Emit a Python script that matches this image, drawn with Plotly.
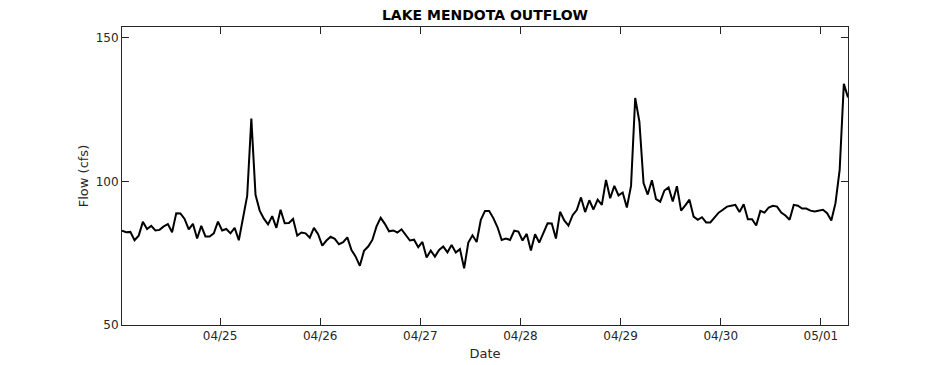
import pandas as pd
import plotly.graph_objects as go

# Hourly outflow (cfs), starting 04/24 00:30
start_time = "2015-04-24 00:30"
flow = [
    82.8, 82.3, 82.4, 79.5, 81.1, 85.9, 83.4, 84.5, 82.9, 83.1,
    84.3, 85.1, 82.3, 88.9, 88.8, 86.9, 83.3, 85.2, 80.1, 84.5,
    80.8, 80.8, 81.9, 86.0, 82.9, 83.4, 81.9, 83.8, 79.5, 87.4,
    94.9, 121.8, 95.3, 89.8, 87.0, 85.0, 87.9, 83.8, 90.1, 85.4,
    85.5, 86.9, 81.1, 82.2, 81.9, 80.4, 83.8, 81.6, 77.6, 79.4,
    80.7, 80.0, 78.1, 78.8, 80.5, 76.1, 73.8, 70.6,
    75.8, 77.3, 79.6, 84.3, 87.3, 85.2, 82.6, 82.9, 82.2, 83.3,
    81.4, 79.4, 79.7, 77.1, 78.9, 73.5, 75.9, 73.8, 76.1, 77.3,
    75.3, 77.8, 75.2, 76.4, 69.7, 78.7, 81.2, 78.9, 86.6, 89.7,
    89.7, 87.2, 84.0, 79.6, 80.1, 79.6, 82.8, 82.5, 79.4, 81.7,
    75.9, 81.6, 78.7, 82.1, 85.4, 85.3, 80.1, 89.4, 86.4, 84.6,
    88.2, 90.0, 94.4, 89.3, 93.4, 90.2, 93.6, 91.8,
    100.5, 94.1, 98.4, 95.1, 96.1, 90.9, 98.4, 129.0, 120.8, 99.4,
    95.4, 100.4, 93.8, 92.9, 96.8, 97.9, 93.0, 98.3, 89.8, 91.6,
    93.6, 87.7, 86.6, 87.5, 85.7, 85.7, 87.5, 89.1, 90.1, 91.2,
    91.5, 91.8, 89.3, 92.0, 86.8, 86.8, 84.6, 89.7, 89.1, 90.9,
    91.5, 91.2, 89.1, 88.1, 86.6, 91.8, 91.5, 90.5, 90.5, 89.8,
    89.5, 89.8, 90.1, 88.9, 86.4, 92.4, 104.0, 133.9, 129.2,
]
times = pd.date_range(start_time, periods=len(flow), freq="h")

x_tick_dates = ["2015-04-25", "2015-04-26", "2015-04-27", "2015-04-28",
                "2015-04-29", "2015-04-30", "2015-05-01"]
x_tick_labels = ["04/25", "04/26", "04/27", "04/28", "04/29", "04/30", "05/01"]
y_ticks = [50, 100, 150]

title_text = "LAKE MENDOTA OUTFLOW"
x_title = "Date"
y_title = "Flow (cfs)"

FONT = "DejaVu Sans"
TXT = "#262626"

# The page body has an 8px default margin, so the figure is sized to fit the
# remaining 930x357 area of the 938x365 window.
W, H = 930, 357

fig = go.Figure()
fig.add_trace(go.Scatter(x=times, y=flow, mode="lines",
                         line=dict(color="black", width=2), showlegend=False))

axis_common = dict(showline=True, linecolor="#262626", linewidth=1, mirror="ticks",
                   ticks="inside", ticklen=7, tickwidth=1, tickcolor="#262626",
                   showgrid=False, zeroline=False, automargin=False,
                   tickfont=dict(family=FONT, size=12, color=TXT))

fig.update_layout(
    width=W, height=H,
    margin=dict(l=114, r=90, t=19, b=40, autoexpand=False),
    paper_bgcolor="white", plot_bgcolor="white",
    font=dict(family=FONT, size=12, color=TXT),
    title=dict(text="<b>" + title_text + "</b>", x=477 / W, xanchor="center",
               y=1 - 7.5 / H, yanchor="middle", yref="container", automargin=False,
               font=dict(family=FONT, size=14, color="black")),
    xaxis=dict(range=[times[0], times[-1]], tickvals=x_tick_dates,
               ticktext=x_tick_labels,
               title=dict(text=x_title, standoff=6, font=dict(family=FONT, size=13, color=TXT)),
               **axis_common),
    yaxis=dict(range=[50, 153.7], tickvals=y_ticks,
               title=dict(text=y_title, standoff=4, font=dict(family=FONT, size=13, color=TXT)),
               **axis_common),
)

fig.write_html("out.html")
